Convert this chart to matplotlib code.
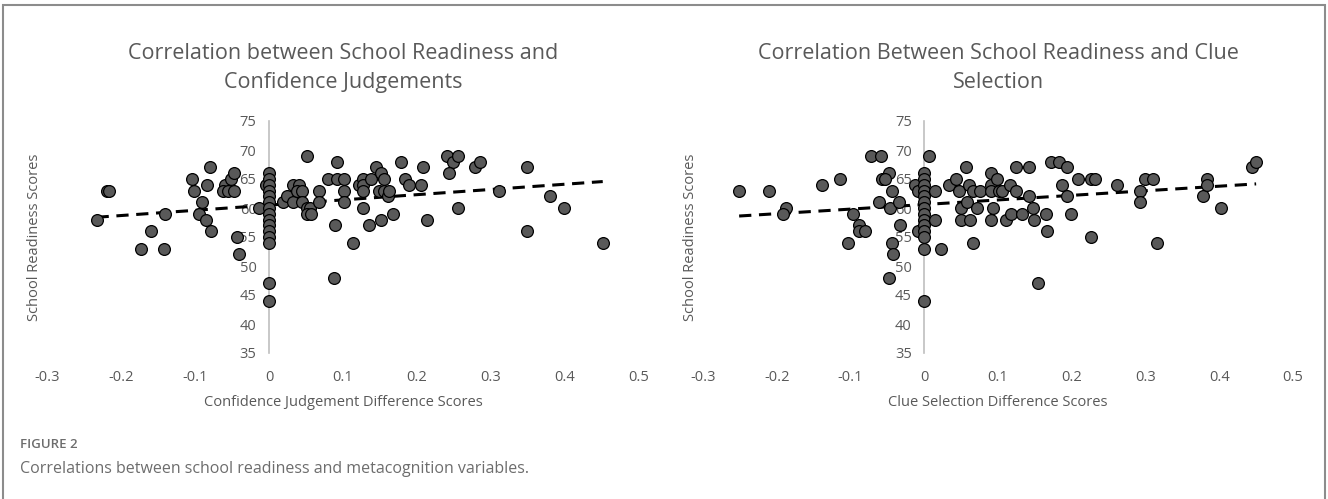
import matplotlib.pyplot as plt
from matplotlib.patches import Rectangle

# left panel: confidence judgement difference vs school readiness
conf_x = [-0.233, -0.219, -0.216, -0.173, -0.160, -0.142, -0.141, -0.104, -0.101, -0.090,
          -0.094, -0.084, -0.080, -0.085, -0.079, -0.060, -0.062, -0.055, -0.052, -0.047,
          -0.047, -0.043, -0.041, -0.014, -0.004,
          0, 0, 0, 0, 0, 0, 0, 0, 0, 0, 0, 0, 0, 0, 0,
          0.019, 0.024, 0.032, 0.033, 0.040, 0.038, 0.044, 0.044, 0.051, 0.051,
          0.056, 0.051, 0.057, 0.068, 0.068, 0.080, 0.092, 0.102, 0.092, 0.089,
          0.088, 0.102, 0.102, 0.113, 0.121, 0.127, 0.127, 0.127, 0.127, 0.135,
          0.138, 0.144, 0.148, 0.152, 0.152, 0.155, 0.156, 0.161, 0.162, 0.167,
          0.178, 0.184, 0.189, 0.206, 0.208, 0.214, 0.240, 0.248, 0.243, 0.255,
          0.256, 0.279, 0.285, 0.311, 0.349, 0.349, 0.380, 0.399, 0.451]
conf_y = [58, 63, 63, 53, 56, 53, 59, 65, 63, 61,
          59, 64, 67, 58, 56, 64, 63, 63, 65, 66,
          63, 55, 52, 60, 64,
          66, 65, 64, 63, 62, 61, 60, 59, 58, 57, 56, 55, 54, 47, 44,
          61, 62, 61, 64, 64, 63, 63, 61, 69, 60,
          60, 59, 59, 63, 61, 65, 65, 65, 68, 57,
          48, 63, 61, 54, 64, 65, 64, 63, 60, 57,
          65, 67, 63, 66, 58, 63, 65, 62, 63, 59,
          68, 65, 64, 64, 67, 58, 69, 68, 66, 69,
          60, 67, 68, 63, 67, 56, 62, 60, 54]

# right panel: clue selection difference vs school readiness
clue_x = [-0.251, -0.211, -0.188, -0.191, -0.138, -0.114, -0.104, -0.096, -0.089, -0.088,
          -0.081, -0.072, -0.058, -0.061, -0.048, -0.057, -0.053, -0.044, -0.047, -0.034,
          -0.033, -0.044, -0.042, -0.048, -0.013, -0.009, -0.008,
          0, 0, 0, 0, 0, 0, 0, 0, 0, 0, 0, 0, 0, 0,
          0.006, 0.015, 0.014, 0.023, 0.034, 0.043, 0.047, 0.050, 0.050, 0.056,
          0.061, 0.058, 0.062, 0.066, 0.066, 0.071, 0.075, 0.090, 0.090, 0.090,
          0.093, 0.090, 0.099, 0.102, 0.106, 0.111, 0.116, 0.117, 0.124, 0.124,
          0.133, 0.142, 0.142, 0.148, 0.149, 0.154, 0.165, 0.166, 0.172, 0.183,
          0.187, 0.194, 0.194, 0.199, 0.209, 0.226, 0.231, 0.226, 0.261, 0.292,
          0.292, 0.299, 0.310, 0.316, 0.378, 0.383, 0.383, 0.402, 0.444, 0.450]
clue_y = [63, 63, 60, 59, 64, 65, 54, 59, 57, 56,
          56, 69, 69, 61, 66, 65, 65, 63, 60, 61,
          57, 54, 52, 48, 64, 63, 56,
          66, 65, 64, 63, 62, 61, 60, 59, 58, 57, 56, 55, 53, 44,
          69, 63, 58, 53, 64, 65, 63, 60, 58, 67,
          64, 61, 58, 54, 63, 60, 63, 66, 64, 63,
          60, 58, 65, 63, 63, 58, 64, 59, 67, 63,
          59, 67, 62, 60, 58, 47, 59, 56, 68, 68,
          64, 67, 62, 59, 65, 65, 65, 55, 64, 63,
          61, 65, 65, 54, 62, 65, 64, 60, 67, 68]

# linear trend lines (slope, intercept)
conf_trend = (9.0, 60.5)
clue_trend = (7.9, 60.6)

titles = ["Correlation between School Readiness and\nConfidence Judgements",
          "Correlation Between School Readiness and Clue\nSelection"]
xlabels = ["Confidence Judgement Difference Scores", "Clue Selection Difference Scores"]
xticks = [-0.3, -0.2, -0.1, 0, 0.1, 0.2, 0.3, 0.4, 0.5]
yticks = [35, 40, 45, 50, 55, 60, 65, 70, 75]

plt.rcParams['font.family'] = ['Open Sans', 'DejaVu Sans']
grey = '#595959'

W, H = 1328, 499
fig = plt.figure(figsize=(W / 100, H / 100), dpi=100)
fig.patches.append(Rectangle((3 / W, -0.1), 1322 / W, 1.1 - 5 / H, transform=fig.transFigure,
                             fill=False, edgecolor='#8c8c8c', linewidth=1.5))

panels = [(47, 639, conf_x, conf_y, conf_trend), (703, 1293, clue_x, clue_y, clue_trend)]
for i, (x0, x1, xs, ys, trend) in enumerate(panels):
    ax = fig.add_axes([x0 / W, 1 - 353 / H, (x1 - x0) / W, 232 / H])
    ax.set_xlim(-0.3, 0.5)
    ax.set_ylim(35, 75)
    ax.set_xticks(xticks)
    ax.set_xticklabels(['0' if t == 0 else f'{t:g}' for t in xticks])
    ax.set_yticks(yticks)
    for s in ['top', 'right', 'bottom']:
        ax.spines[s].set_visible(False)
    ax.spines['left'].set_position(('data', 0))
    ax.spines['left'].set_color('#bfbfbf')
    ax.spines['left'].set_linewidth(1.2)
    ax.tick_params(length=0, labelsize=10.5, colors=grey)
    ax.tick_params(axis='x', pad=12)
    ax.tick_params(axis='y', pad=9)
    ax.patch.set_alpha(0)

    xmin, xmax = min(xs), max(xs)
    ax.plot([xmin, xmax], [trend[1] + trend[0] * xmin, trend[1] + trend[0] * xmax],
            color='black', linestyle=(0, (4, 2.5)), linewidth=2.2, zorder=2)
    ax.scatter(xs, ys, s=72, color='#595959', edgecolor='black', linewidth=0.9, zorder=3,
               clip_on=False)

    cx = (x0 + x1) / 2 / W
    fig.text(cx, 1 - 68 / H, titles[i], ha='center', va='center', fontsize=15.5,
             color=grey, linespacing=1.5)
    fig.text(cx, 1 - 403 / H, xlabels[i], ha='center', va='center', fontsize=10.5, color=grey)
    fig.text((35 if i == 0 else 690) / W, 1 - 237 / H, 'School Readiness Scores',
             rotation=90, ha='center', va='center', fontsize=10.5, color=grey)

fig.text(20 / W, 1 - 445 / H, 'FIGURE 2', ha='left', va='center', fontsize=9.5,
         color='#6d6d6d', fontweight='semibold')
fig.text(20 / W, 1 - 469 / H, 'Correlations between school readiness and metacognition variables.',
         ha='left', va='center', fontsize=11.5, color='#6d6d6d')

fig.savefig('out.png', dpi=100)
